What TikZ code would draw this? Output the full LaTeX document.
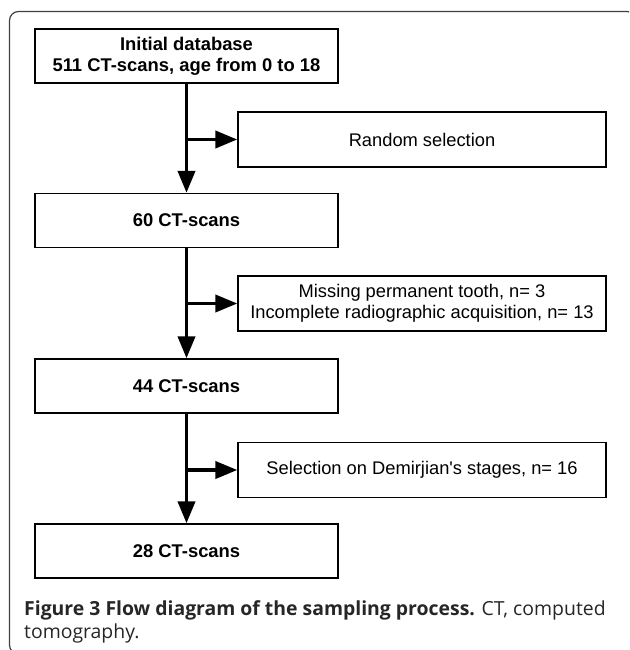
\documentclass[tikz,border=0pt]{standalone}
\usepackage{fontspec}
\setmainfont{Liberation Sans}
\newfontfamily\capfont{Open Sans}
\usetikzlibrary{arrows.meta,positioning}

\begin{document}
\begin{tikzpicture}[x=1pt, y=-1pt,
    mainbox/.style={draw, line width=1.3pt, minimum width=303pt, minimum height=54pt, inner sep=0pt, align=center, font=\fontsize{18.4}{21}\selectfont\bfseries},
    sidebox/.style={draw, line width=1.3pt, minimum width=368pt, minimum height=55pt, inner sep=0pt, align=center, font=\fontsize{18.3}{21}\selectfont},
    flow/.style={-{Triangle[length=22pt,width=17pt]}, line width=3.8pt},
    frame/.style={draw=black!75, line width=1.2pt, rounded corners=9pt},
    caption/.style={anchor=base west, inner sep=0pt, text=black!85, font=\capfont\fontsize{19.4}{23}\selectfont}
]
\clip (0,0) rectangle (629,650);

% Frame
\draw[frame] (9.5,11.5) rectangle (636,654);

% Main column
\node[mainbox] (main1) at (186.5, 56) {Initial database\\511 CT-scans, age from 0 to 18};
\node[mainbox] (main2) at (186.5, 220.5) {60 CT-scans};
\node[mainbox] (main3) at (186.5, 386) {44 CT-scans};
\node[mainbox] (main4) at (186.5, 551) {28 CT-scans};

% Exclusions
\node[sidebox] (side1) at (422, 139.5) {Random selection};
\node[sidebox] (side2) at (422, 303.5) {Missing permanent tooth, n= 3\\Incomplete radiographic acquisition, n= 13};
\node[sidebox] (side3) at (422, 470) {Selection on Demirjian\textquotesingle s stages, n= 16};

% Arrows
\draw[flow] (main1) -- (main2);
\draw[flow] (main2) -- (main3);
\draw[flow] (main3) -- (main4);

\coordinate (j1) at (main1.south |- side1.west);
\coordinate (j2) at (main2.south |- side2.west);
\coordinate (j3) at (main3.south |- side3.west);
\draw[flow] (j1) -- (side1.west);
\draw[flow] (j2) -- (side2.west);
\draw[flow] (j3) -- (side3.west);

% Caption
\node[caption] (cap1) at (24, 615) {\textbf{Figure 3 Flow diagram of the sampling process.} CT, computed};
\node[caption] (cap2) at (24, 638) {tomography.};

\end{tikzpicture}
\end{document}
